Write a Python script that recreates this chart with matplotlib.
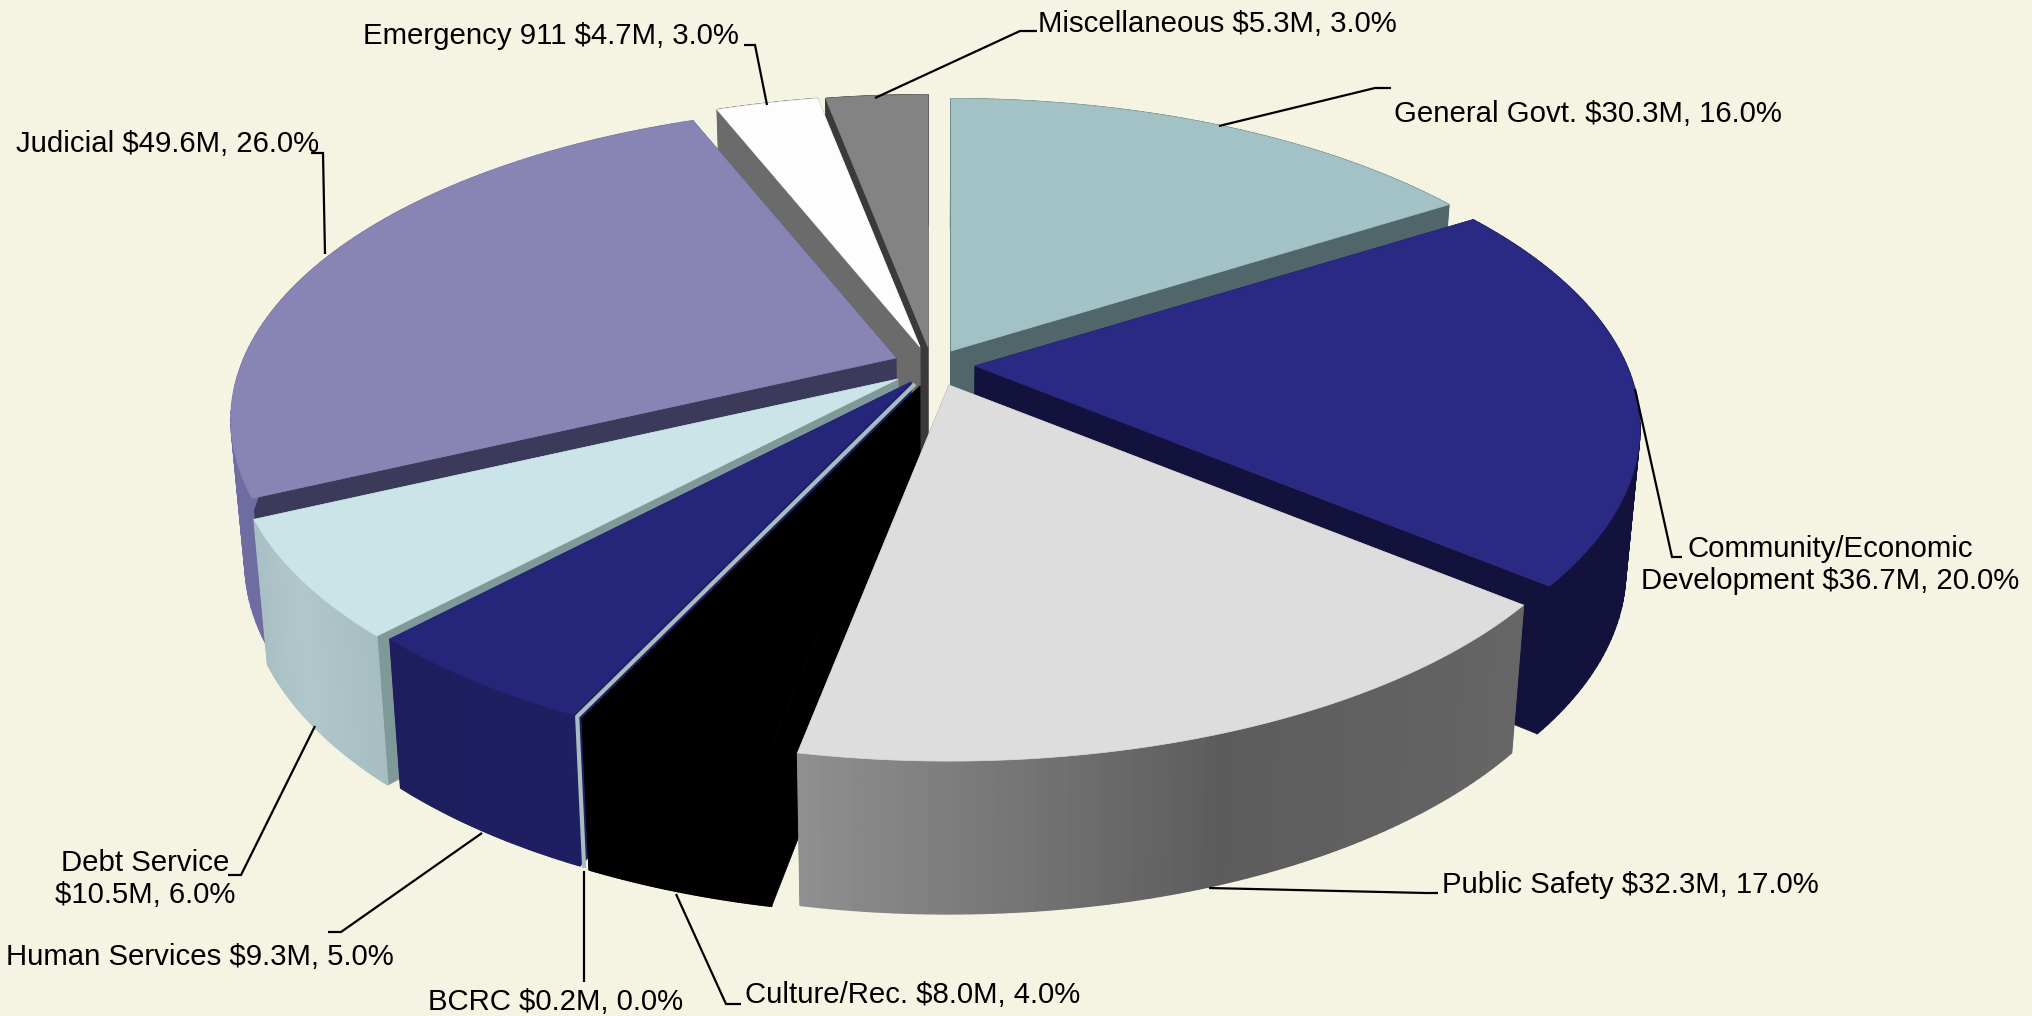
import matplotlib
matplotlib.use('Agg')
import matplotlib.pyplot as plt
import numpy as np
from matplotlib.collections import PolyCollection
from matplotlib.colors import to_rgb

plt.rcParams['font.family'] = ['Liberation Sans', 'DejaVu Sans']

names = ['General Govt.', 'Community/Economic\nDevelopment', 'Public Safety', 'Culture/Rec.', 'BCRC',
         'Human Services', 'Debt Service\n', 'Judicial', 'Emergency 911', 'Miscellaneous']
values = [30.3, 36.7, 32.3, 8.0, 0.2, 9.3, 10.5, 49.6, 4.7, 5.3]
percents = [16.0, 20.0, 17.0, 4.0, 0.0, 5.0, 6.0, 26.0, 3.0, 3.0]

# styles, same order as names
top_col = ['#A3C2C6', '#2A2A85', '#DDDDDD', '#000000', '#A9BCBF', '#25267A', '#CBE4E8', '#8885B5', '#FDFDFD', '#838383']
face_col = ['#50666A', '#12123C', '#6A6A6A', '#000000', '#A9BCBF', '#1E1E60', '#7F9999', '#3C3A5A', '#6B6B6B', '#3A3A3A']
rim_col = [['#50666A', '#50666A'], ['#12123C', '#12123C'], ['#666666', '#5C5C5C', '#8F8F8F'], ['#000000', '#000000'],
           ['#A9BCBF', '#A9BCBF'], ['#1E1E62', '#1E1E5E'], ['#A6BEC2', '#B0C8CC', '#A8C0C4'], ['#6E6CA0', '#6E6CA0'],
           ['#6B6B6B', '#6B6B6B'], ['#3A3A3A', '#3A3A3A']]
offsets = [(24, -21), (48, -6), (22, 13), (-7, 14), (-12, 12), (-16, 10), (-29, 7), (-31, -14), (-7, -25), (1, -25)]
draw_order = [0, 9, 8, 7, 1, 6, 5, 3, 4, 2]

cx, cy = 927, 372
a, b, p = 652, 302, 0.197
depth = 140


def project(theta, r=1.0):
    u = r * np.sin(theta)
    v = r * np.cos(theta)
    w = 1 + p * v
    return cx + a * u / w, cy - b * v / w, w


def lower(x, y, w):
    return cx + (x - cx) * 0.98, y + depth * w ** -0.4


fig = plt.figure(figsize=(20.32, 10.16), dpi=100, facecolor='#F5F4E3')
ax = fig.add_axes([0, 0, 1, 1])
ax.set_xlim(0, 2032)
ax.set_ylim(1016, 0)
ax.axis('off')

# the slices follow the rounded percentages, BCRC ends up as a thin sliver
edges = np.radians(np.concatenate([[0], np.cumsum(percents)]) / sum(percents) * 360)
z = 2
for i in draw_order:
    dx, dy = offsets[i]
    th = np.linspace(edges[i], edges[i + 1], 80)
    x, y, w = project(th)
    x, y = x + dx, y + dy
    xl, yl = lower(x, y, w)
    ax0, ay0, aw = project(0.0, 0.0)
    ax0, ay0 = ax0 + dx, ay0 + dy
    axl, ayl = lower(ax0, ay0, aw)
    sliver = percents[i] == 0

    if sliver:
        ax.plot([ax0, x[0], xl[0]], [ay0, y[0], yl[0]], color=top_col[i], lw=3, zorder=z, solid_capstyle='butt')
        z += 1
        continue

    # cut faces
    for k in (0, -1):
        ax.fill([ax0, x[k], xl[k], axl], [ay0, y[k], yl[k], ayl], color=face_col[i], lw=0.5, zorder=z)
    # outer wall, shaded along the arc
    quads = [[(x[k], y[k]), (x[k + 1], y[k + 1]), (xl[k + 1], yl[k + 1]), (xl[k], yl[k])] for k in range(len(x) - 1)]
    stops = np.array([to_rgb(c) for c in rim_col[i]])
    t = np.linspace(0, 1, len(stops))
    tt = np.linspace(0, 1, len(quads))
    cols = np.column_stack([np.interp(tt, t, stops[:, c]) for c in range(3)])
    ax.add_collection(PolyCollection(quads, facecolors=cols, edgecolors=cols, linewidths=1, zorder=z))
    # top
    ax.fill(np.r_[ax0, x], np.r_[ay0, y], color=top_col[i], lw=0.5, zorder=z)
    z += 1

# labels: text position, alignment and leader line in pixels
label_pos = [(1394, 114, 'left'), (1830, 565, 'center'), (1442, 885, 'left'), (745, 995, 'left'), (556, 1002, 'center'),
             (200, 957, 'center'), (145, 879, 'center'), (319, 144, 'right'), (739, 36, 'right'), (1038, 24, 'left')]
leaders = [[(1219, 126), (1375, 88), (1391, 88)],
           [(1635, 389), (1672, 557), (1682, 557)],
           [(1209, 888), (1426, 893), (1438, 893)],
           [(676, 894), (726, 1004), (741, 1004)],
           [(584, 871), (584, 982)],
           [(482, 833), (341, 932), (328, 932)],
           [(315, 726), (241, 875), (228, 875)],
           [(325, 254), (323, 153), (311, 153)],
           [(767, 105), (755, 45), (744, 45)],
           [(875, 98), (1020, 31), (1037, 31)]]

for i in range(len(names)):
    sep = '' if names[i].endswith('\n') else ' '
    txt = '%s%s$%.1fM, %.1f%%' % (names[i], sep, values[i], percents[i])
    lx, ly, ha = label_pos[i]
    ax.text(lx, ly, txt, ha=ha, va='center', fontsize=21.15, color='black', linespacing=1.2, multialignment='center', zorder=40)
    pts = np.array(leaders[i])
    ax.plot(pts[:, 0], pts[:, 1], color='black', lw=1.6, zorder=30, solid_capstyle='butt', solid_joinstyle='miter')

fig.savefig('out.png', dpi=100, facecolor=fig.get_facecolor())
